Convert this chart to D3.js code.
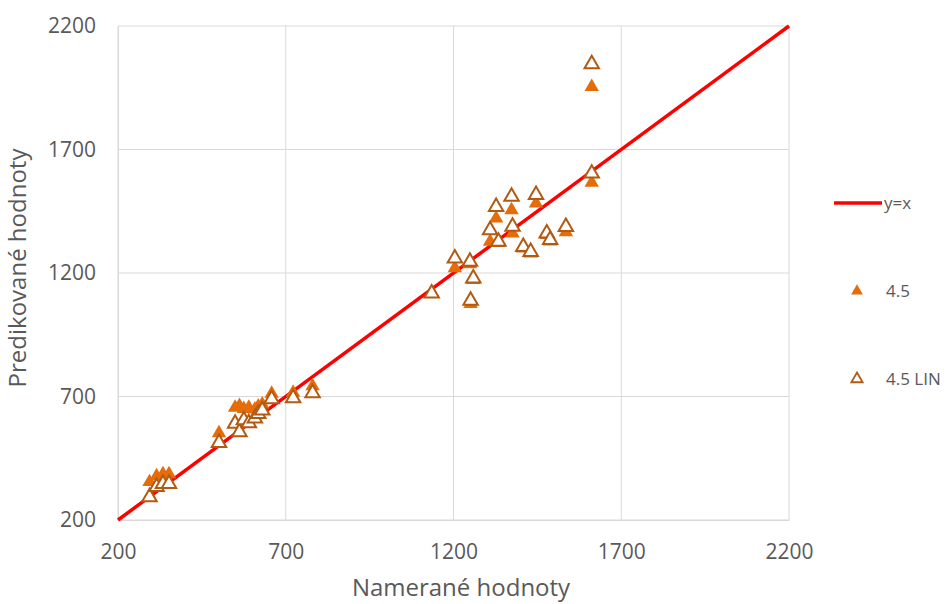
<!DOCTYPE html>
<html><head><meta charset="utf-8">
<script src="https://cdn.jsdelivr.net/npm/d3@7"></script>
<style>body{margin:0;background:#fff}svg{display:block}</style>
</head><body>
<svg id="c" width="946" height="604"></svg>
<script>
const ticks = [200, 700, 1200, 1700, 2200];
const measured = [294, 315, 334, 352, 501, 549, 562, 575, 590, 608, 618, 630, 658, 722, 780,
  1135, 1204, 1249, 1259, 1251, 1309, 1327, 1334, 1373, 1376, 1408, 1430, 1446, 1478, 1488, 1535, 1612, 1612];
const pred45 = [354, 378, 386, 386, 552, 655, 662, 650, 655, 648, 660, 668, 712, 716, 742,
  1116, 1220, 1236, 1172, 1075, 1327, 1421, 1322, 1455, 1361, 1300, 1280, 1482, 1355, 1328, 1366, 1954, 1566];
const pred45LIN = [293, 334, 346, 346, 512, 590, 556, 604, 592, 612, 630, 644, 690, 694, 714,
  1118, 1259, 1246, 1178, 1088, 1374, 1468, 1327, 1509, 1388, 1306, 1286, 1516, 1361, 1334, 1387, 2046, 1603];
const seriesNames = ["y=x", "4.5", "4.5 LIN"];
const xTitle = "Namerané hodnoty", yTitle = "Predikované hodnoty";

const svg = d3.select("#c");
const x = d3.scaleLinear().domain([200, 2200]).range([118, 789]);
const y = d3.scaleLinear().domain([200, 2200]).range([520, 26]);
const font = "'Open Sans', sans-serif", txt = "#595959";

// gridlines
svg.append("g").selectAll("line").data(ticks).join("line")
  .attr("x1", d => x(d)).attr("x2", d => x(d)).attr("y1", y(2200)).attr("y2", y(200))
  .attr("stroke", "#d9d9d9").attr("stroke-width", 1);
svg.append("g").selectAll("line").data(ticks).join("line")
  .attr("x1", x(200)).attr("x2", x(2200)).attr("y1", d => y(d)).attr("y2", d => y(d))
  .attr("stroke", "#d9d9d9").attr("stroke-width", 1);

// axes
const fmt = d3.format("d");
const xa = svg.append("g").attr("transform", `translate(0,${y(200)})`)
  .call(d3.axisBottom(x).tickValues(ticks).tickFormat(fmt).tickSize(0).tickPadding(24));
const ya = svg.append("g").attr("transform", `translate(${x(200)},0)`)
  .call(d3.axisLeft(y).tickValues(ticks).tickFormat(fmt).tickSize(0).tickPadding(22));
[xa, ya].forEach(a => {
  a.select(".domain").attr("stroke", "#d9d9d9");
  a.selectAll("text").attr("font-family", font).attr("font-size", 21).attr("fill", txt);
});

svg.append("text").attr("x", 461).attr("y", 596).attr("text-anchor", "middle")
  .attr("font-family", font).attr("font-size", 24).attr("fill", txt).text(xTitle);
svg.append("text").attr("transform", `translate(26,${268}) rotate(-90)`).attr("text-anchor", "middle")
  .attr("font-family", font).attr("font-size", 24).attr("fill", txt).text(yTitle);

// y=x line
svg.append("line").attr("x1", x(200)).attr("y1", y(200)).attr("x2", x(2200)).attr("y2", y(2200))
  .attr("stroke", "#ff0000").attr("stroke-width", 3.5);

const tri = d3.symbol().type(d3.symbolTriangle).size(90);
const data = measured.map((m, i) => ({m, a: pred45[i], b: pred45LIN[i]}));
svg.append("g").selectAll("path").data(data).join("path")
  .attr("d", tri).attr("transform", d => `translate(${x(d.m)},${y(d.a)})`)
  .attr("fill", "#e46c0a");
svg.append("g").selectAll("path").data(data).join("path")
  .attr("d", tri).attr("transform", d => `translate(${x(d.m)},${y(d.b)})`)
  .attr("fill", "#fff").attr("stroke", "#b35a12").attr("stroke-width", 2);

// legend
const lg = svg.append("g");
lg.append("line").attr("x1", 834).attr("x2", 882).attr("y1", 203).attr("y2", 203)
  .attr("stroke", "#ff0000").attr("stroke-width", 3.5);
lg.append("text").attr("x", 884).attr("y", 209).text(seriesNames[0]);
lg.append("path").attr("d", d3.symbol().type(d3.symbolTriangle).size(60)).attr("transform", "translate(857,291)").attr("fill", "#e46c0a");
lg.append("text").attr("x", 886).attr("y", 297).text(seriesNames[1]);
lg.append("path").attr("d", d3.symbol().type(d3.symbolTriangle).size(55)).attr("transform", "translate(857,379)")
  .attr("fill", "#fff").attr("stroke", "#b35a12").attr("stroke-width", 1.8);
lg.append("text").attr("x", 886).attr("y", 385).text(seriesNames[2]);
lg.selectAll("text").attr("font-family", font).attr("font-size", 17).attr("fill", txt);
</script>
</body></html>
